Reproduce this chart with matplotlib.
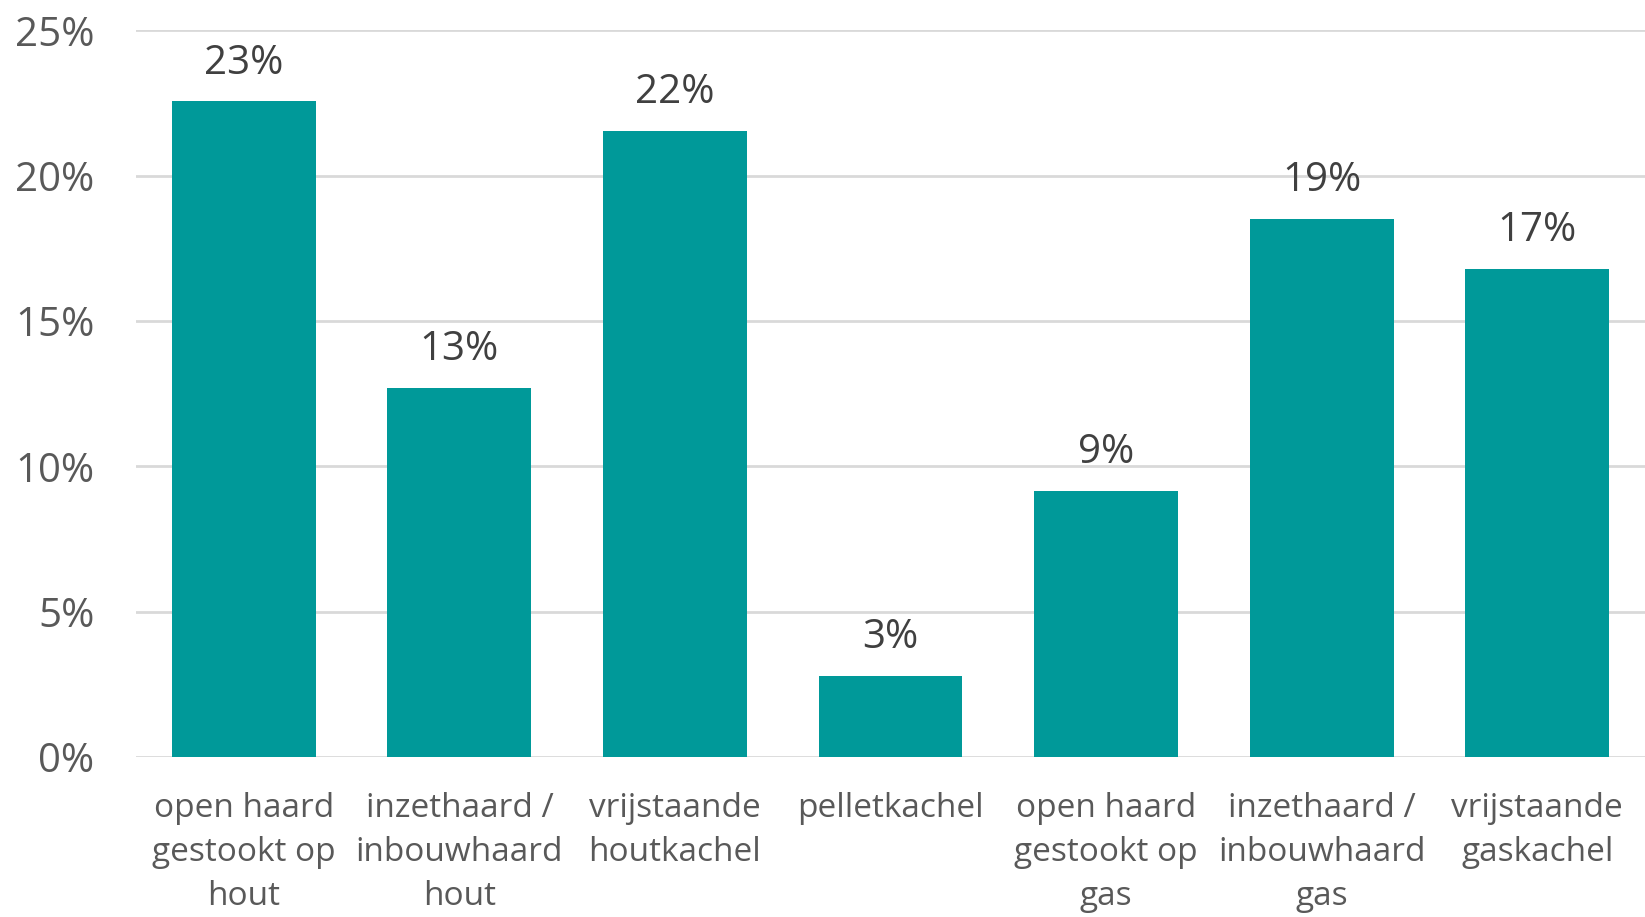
import matplotlib.pyplot as plt
import numpy

# values (percent)
categories = ['open haard\ngestookt op\nhout', 'inzethaard /\ninbouwhaard\nhout',
              'vrijstaande\nhoutkachel', 'pelletkachel', 'open haard\ngestookt op\ngas',
              'inzethaard /\ninbouwhaard\ngas', 'vrijstaande\ngaskachel']
values = [22.55, 12.7, 21.55, 2.8, 9.15, 18.5, 16.8]
value_labels = ['23%', '13%', '22%', '3%', '9%', '19%', '17%']
y_ticks = [0, 5, 10, 15, 20, 25]

plt.rcParams['font.family'] = ['Open Sans', 'DejaVu Sans']

fig = plt.figure(figsize=(16.45, 9.17), dpi=100)
ax = fig.add_axes([0.0827, 0.1745, 0.9173, 0.7925])

x = numpy.arange(len(categories))
bars = ax.bar(x, values, width=0.667, color='#009999', zorder=3)

for bar, label in zip(bars, value_labels):
    ax.annotate(label, (bar.get_x() + bar.get_width() / 2, bar.get_height()),
                xytext=(0, 27.5), textcoords='offset points', ha='center', va='center',
                fontsize=29, color='#404040')

ax.set_xlim(-0.5, 6.5)
ax.set_ylim(0, 25)
ax.set_yticks(y_ticks)
ax.set_yticklabels([f'{t}%' for t in y_ticks], fontsize=29, color='#595959')
ax.set_xticks(x)
ax.set_xticklabels(categories, fontsize=24, color='#595959', linespacing=1.45)
ax.tick_params(axis='both', length=0)
ax.tick_params(axis='y', pad=30)
ax.tick_params(axis='x', pad=25)

ax.grid(axis='y', color='#d9d9d9', linewidth=2, zorder=0)
for side in ['top', 'right', 'left', 'bottom']:
    ax.spines[side].set_visible(False)

fig.savefig('out.png', dpi=100)
